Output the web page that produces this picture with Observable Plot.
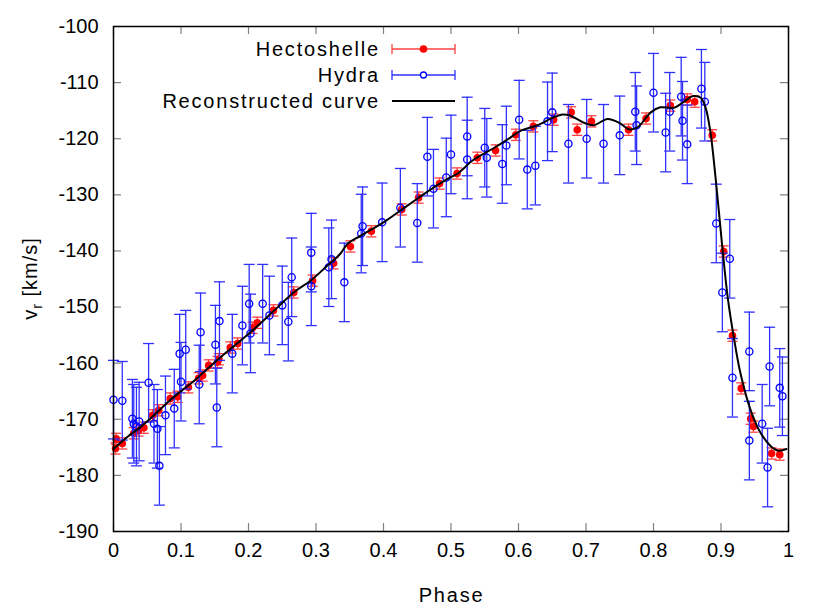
<!DOCTYPE html>
<html><head><meta charset="utf-8">
<script src="https://cdn.jsdelivr.net/npm/d3@7"></script>
<script src="https://cdn.jsdelivr.net/npm/@observablehq/plot@0.6"></script>
<style>body{margin:0;background:#fff} svg{display:block}</style>
</head><body><div id="chart"></div>
<script>
// Hectoshelle (red)
const hectoPhase = [0.003,0.004,0.013,0.030,0.037,0.045,0.058,0.067,0.084,0.095,0.111,0.126,0.132,0.141,0.154,0.156,0.173,0.184,0.206,0.213,0.237,0.267,0.295,0.326,0.351,0.382,0.427,0.452,0.483,0.509,0.539,0.566,0.596,0.622,0.652,0.678,0.687,0.708,0.763,0.789,0.825,0.850,0.861,0.887,0.904,0.917,0.930,0.944,0.948,0.975,0.987];
const hectoV = [-175.2,-173.5,-174.3,-172.5,-172.0,-171.5,-169.3,-168.4,-166.3,-166.0,-164.3,-162.7,-162.2,-160.4,-159.8,-159.3,-157.2,-156.5,-153.7,-152.8,-150.6,-147.4,-145.3,-142.2,-139.2,-136.5,-132.6,-130.5,-128.0,-126.2,-123.4,-122.1,-119.3,-117.8,-116.6,-115.3,-118.4,-116.9,-118.4,-116.4,-114.1,-113.0,-113.4,-119.4,-140.1,-155.1,-164.5,-169.9,-171.3,-176.1,-176.3];
const hectoErr = [1.0,1.0,1.0,1.0,1.0,1.0,1.0,1.0,1.0,1.0,1.0,1.0,1.0,1.0,1.0,1.0,1.0,1.0,1.0,1.0,1.0,1.0,1.0,1.0,1.0,1.0,1.0,1.0,1.0,1.0,1.0,1.0,1.0,1.0,1.0,1.0,1.0,1.0,1.0,1.0,1.0,1.0,1.0,1.0,1.0,1.0,1.0,1.0,1.0,1.0,1.0];

// Hydra (blue)
const hydraPhase = [0.000,0.013,0.028,0.030,0.034,0.038,0.052,0.060,0.065,0.068,0.077,0.090,0.098,0.100,0.107,0.127,0.129,0.151,0.153,0.157,0.176,0.191,0.201,0.203,0.221,0.231,0.250,0.259,0.264,0.293,0.293,0.319,0.323,0.342,0.367,0.369,0.398,0.425,0.450,0.465,0.474,0.493,0.500,0.524,0.524,0.550,0.553,0.576,0.582,0.601,0.613,0.625,0.643,0.650,0.674,0.701,0.726,0.750,0.773,0.775,0.800,0.818,0.824,0.841,0.843,0.850,0.871,0.876,0.893,0.902,0.913,0.917,0.942,0.942,0.961,0.969,0.972,0.987,0.991];
const hydraV = [-166.5,-166.7,-169.9,-170.8,-171.3,-170.4,-163.5,-170.8,-171.7,-178.3,-169.3,-168.1,-158.3,-163.3,-157.6,-163.8,-154.5,-156.7,-167.9,-152.5,-158.3,-153.3,-149.4,-154.7,-149.4,-151.5,-149.7,-152.6,-144.7,-140.3,-146.3,-142.9,-141.5,-145.6,-136.9,-135.6,-134.9,-132.3,-135.0,-123.2,-128.9,-126.9,-122.8,-119.6,-123.7,-121.6,-123.4,-124.5,-121.2,-116.6,-125.5,-124.8,-116.9,-115.3,-120.9,-120.0,-120.9,-119.4,-115.2,-117.6,-111.8,-118.9,-115.2,-112.5,-116.8,-121.0,-111.1,-113.4,-135.1,-147.4,-141.4,-162.6,-157.9,-173.8,-170.8,-178.6,-160.6,-164.4,-165.9];
const hydraErr = [7,7,7,7,7,7,7,7,7,7,7,7,7,7,7,7,7,7,7,7,7,7,7,7,7,7,7,7,7,7,7,7,7,7,7,7,7,7,7,7,7,7,7,7,7,7,7,7,7,7,7,7,7,7,7,7,7,7,7,7,7,7,7,7,7,7,7,7,7,7,7,7,7,7,7,7,7,7,7];

// Reconstructed curve (black)
const curvePhase = [0.0,0.02,0.04,0.06,0.08,0.10,0.12,0.14,0.16,0.18,0.203,0.233,0.267,0.292,0.317,0.336,0.347,0.366,0.40,0.425,0.45,0.474,0.499,0.51,0.533,0.563,0.588,0.603,0.628,0.652,0.665,0.677,0.696,0.711,0.732,0.751,0.763,0.776,0.796,0.81,0.83,0.844,0.859,0.87,0.877,0.884,0.892,0.902,0.91,0.919,0.929,0.944,0.959,0.973,0.985,0.997];
const curveV = [-175.3,-173.2,-171.4,-169.3,-167.0,-165.0,-163.1,-160.9,-158.8,-156.8,-154.5,-151.2,-147.4,-145.3,-142.6,-140.5,-138.7,-137.3,-134.9,-132.8,-130.7,-128.7,-126.9,-126.2,-123.8,-121.7,-119.8,-118.6,-117.6,-116.2,-115.7,-115.9,-117.1,-117.6,-116.5,-117.3,-118.3,-118.0,-115.3,-114.4,-114.5,-113.5,-112.4,-112.7,-114.4,-118.5,-127.0,-139.4,-148.3,-155.4,-161.9,-168.4,-172.5,-174.7,-175.6,-175.3];

const xTicks = [0,0.1,0.2,0.3,0.4,0.5,0.6,0.7,0.8,0.9,1];
const xTickLabels = ["0","0.1","0.2","0.3","0.4","0.5","0.6","0.7","0.8","0.9","1"];
const yTicks = [-190,-180,-170,-160,-150,-140,-130,-120,-110,-100];
const yTickLabels = ["-190","-180","-170","-160","-150","-140","-130","-120","-110","-100"];
const legendLabels = ["Hectoshelle","Hydra","Reconstructed curve"];

const hecto = hectoPhase.map((p,i)=>({phase:p, v:hectoV[i], e:hectoErr[i]}));
const hydra = hydraPhase.map((p,i)=>({phase:p, v:hydraV[i], e:hydraErr[i]}));
const curve = curvePhase.map((p,i)=>({phase:p, v:curveV[i]}));

const W=830, H=613, ML=113, MR=42, MT=26, MB=82;
const pw = W-ML-MR, ph = H-MT-MB, TK = 8;
const FONT = "'Liberation Sans', Arial, sans-serif";
const FS = 20;
const RED = "#ff0000", REDBAR = "#ff4040", BLUE = "#0000ff", BLUEBAR = "#3030ff";
const capSymbol = {draw(ctx, size){const r=Math.sqrt(size/Math.PI); ctx.moveTo(-r,0); ctx.lineTo(r,0);}};

const chart = Plot.plot({
  width:W, height:H, marginLeft:ML, marginRight:MR, marginTop:MT, marginBottom:MB,
  style:{fontFamily:FONT, fontSize:FS+"px", background:"white", color:"black"},
  x:{domain:[0,1]}, y:{domain:[-190,-100]},
  marks:[
    Plot.ruleX(xTicks,{x:d=>d, stroke:"#808080", strokeWidth:1.2, insetTop:ph-TK}),
    Plot.ruleX(xTicks,{x:d=>d, stroke:"#808080", strokeWidth:1.2, insetBottom:ph-TK}),
    Plot.ruleY(yTicks,{y:d=>d, stroke:"#808080", strokeWidth:1.2, insetRight:pw-TK}),
    Plot.ruleY(yTicks,{y:d=>d, stroke:"#808080", strokeWidth:1.2, insetLeft:pw-TK}),
    Plot.axisX({ticks:xTicks, tickSize:0, tickPadding:11, tickFormat:d=>xTickLabels[xTicks.indexOf(d)], label:null, fontSize:FS}),
    Plot.axisY({ticks:yTicks, tickSize:0, tickPadding:15, tickFormat:d=>yTickLabels[yTicks.indexOf(d)], label:null, fontSize:FS}),
    // Hectoshelle
    Plot.ruleX(hecto,{x:"phase", y1:d=>d.v-d.e, y2:d=>d.v+d.e, stroke:REDBAR, strokeWidth:1.3}),
    Plot.dot(hecto,{x:"phase", y:d=>d.v-d.e, symbol:capSymbol, r:5, fill:"none", stroke:REDBAR, strokeWidth:1.3}),
    Plot.dot(hecto,{x:"phase", y:d=>d.v+d.e, symbol:capSymbol, r:5, fill:"none", stroke:REDBAR, strokeWidth:1.3}),
    Plot.dot(hecto,{x:"phase", y:"v", r:3.8, fill:RED, stroke:"none"}),
    // Hydra
    Plot.ruleX(hydra,{x:"phase", y1:d=>d.v-d.e, y2:d=>d.v+d.e, stroke:BLUEBAR, strokeWidth:1.3}),
    Plot.dot(hydra,{x:"phase", y:d=>d.v-d.e, symbol:capSymbol, r:5.5, fill:"none", stroke:BLUEBAR, strokeWidth:1.3}),
    Plot.dot(hydra,{x:"phase", y:d=>d.v+d.e, symbol:capSymbol, r:5.5, fill:"none", stroke:BLUEBAR, strokeWidth:1.3}),
    Plot.dot(hydra,{x:"phase", y:"v", r:3.6, fill:"none", stroke:BLUE, strokeWidth:1.3}),
    // Curve
    Plot.line(curve,{x:"phase", y:"v", stroke:"black", strokeWidth:2, curve:"catmull-rom"}),
    Plot.frame({stroke:"black", strokeWidth:1.5})
  ]
});
document.getElementById("chart").appendChild(chart);

// Legend and axis titles
const svg = d3.select(chart);
const g = svg.append("g").attr("font-family", FONT).attr("font-size", FS);
const ly = [49, 75, 101], tx = 380, lx1 = 392, lx2 = 455, lxm = 423.5;
legendLabels.forEach((t,i)=>{
  g.append("text").attr("x", tx).attr("y", ly[i]).attr("text-anchor","end").attr("dy","0.35em")
    .attr("letter-spacing","1.8px").text(t);
});
[[REDBAR, RED, true],[BLUEBAR, BLUE, false]].forEach(([bar, c, filled], i)=>{
  const y = ly[i];
  g.append("line").attr("x1",lx1).attr("x2",lx2).attr("y1",y).attr("y2",y).attr("stroke",bar).attr("stroke-width",1.3);
  g.append("line").attr("x1",lx1).attr("x2",lx1).attr("y1",y-5).attr("y2",y+5).attr("stroke",bar).attr("stroke-width",1.3);
  g.append("line").attr("x1",lx2).attr("x2",lx2).attr("y1",y-5).attr("y2",y+5).attr("stroke",bar).attr("stroke-width",1.3);
  if (filled) g.append("circle").attr("cx",lxm).attr("cy",y).attr("r",3.8).attr("fill",c);
  else g.append("circle").attr("cx",lxm).attr("cy",y).attr("r",3).attr("fill","white").attr("stroke",c).attr("stroke-width",1.3);
});
g.append("line").attr("x1",lx1).attr("x2",lx2).attr("y1",ly[2]).attr("y2",ly[2]).attr("stroke","black").attr("stroke-width",2);

g.append("text").attr("x", ML + pw/2 + 1).attr("y", 595).attr("text-anchor","middle").attr("dy","0.35em")
  .attr("letter-spacing","1.8px").text("Phase");
const yl = g.append("text").attr("transform", `translate(30,${MT+ph/2}) rotate(-90)`).attr("text-anchor","middle").attr("dy","0.35em")
  .attr("letter-spacing","1px");
yl.append("tspan").text("v");
yl.append("tspan").attr("dy", 5).attr("font-size", 14).text("r");
yl.append("tspan").attr("dy", -5).text(" [km/s]");
</script>
</body></html>
